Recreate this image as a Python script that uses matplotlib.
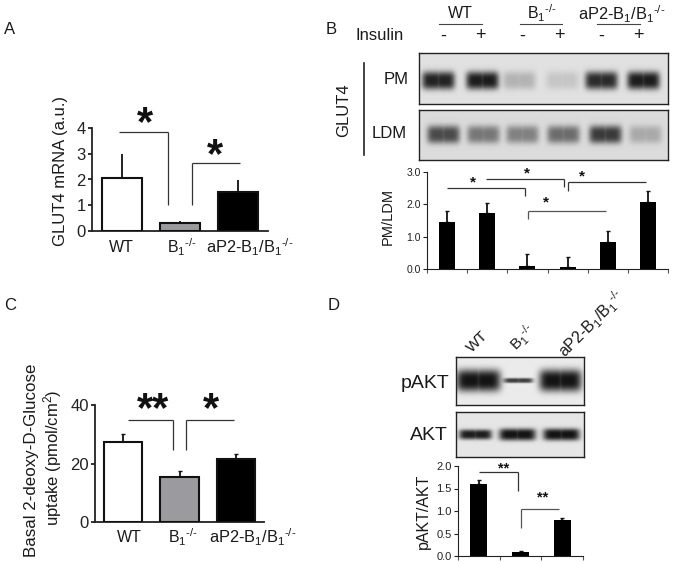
import numpy as np
import matplotlib
matplotlib.use("Agg")
import matplotlib.pyplot as plt

plt.rcParams['font.family'] = ['Liberation Sans', 'DejaVu Sans']
plt.rcParams['mathtext.fontset'] = 'custom'
plt.rcParams['mathtext.rm'] = 'Liberation Sans'
plt.rcParams['mathtext.default'] = 'regular'

W, H = 673, 564
KO = 'B$_1$$^{\u2010/\u2010}$'
RESCUE = 'aP2-B$_1$/B$_1$$^{\u2010/\u2010}$'

# panel A
a_labels = ['WT', KO, RESCUE]
a_values = [2.05, 0.30, 1.50]
a_err = [0.95, 0.07, 0.47]
a_ticks = [0, 1, 2, 3, 4]

# panel B
b_values = [1.45, 1.72, 0.10, 0.05, 0.82, 2.06]
b_err = [0.35, 0.33, 0.37, 0.33, 0.35, 0.36]
b_ticks = [0.0, 1.0, 2.0, 3.0]
b_pm_bands = [0.92, 0.95, 0.22, 0.13, 0.88, 0.95]
b_ldm_bands = [0.72, 0.5, 0.45, 0.55, 0.8, 0.25]

# panel C
c_labels = ['WT', KO, RESCUE]
c_values = [27.5, 15.5, 21.5]
c_err = [2.5, 2.0, 1.6]
c_ticks = [0, 20, 40]

# panel D
d_values = [1.60, 0.10, 0.80]
d_err = [0.09, 0.01, 0.04]
d_ticks = [0.0, 0.5, 1.0, 1.5, 2.0]
d_pakt_bands = [1.0, 0.8, 1.0]
d_akt_bands = [0.95, 1.0, 1.0]

fig = plt.figure(figsize=(W / 100, H / 100), dpi=100, facecolor='white')


def ax_px(x0, y0, x1, y1):
    return fig.add_axes([x0 / W, 1 - y1 / H, (x1 - x0) / W, (y1 - y0) / H])


overlay = ax_px(0, 0, W, H)
overlay.set_xlim(0, W)
overlay.set_ylim(H, 0)
overlay.axis('off')
overlay.set_zorder(5)


def txt(x, y, s, size=11, **kw):
    kw.setdefault('ha', 'center')
    kw.setdefault('va', 'center')
    kw.setdefault('color', '#1a1a1a')
    overlay.text(x, y, s, fontsize=size, **kw)


def bracket(x0, x1, y, drop_x, drop_y, color='#333333', lw=0.9):
    overlay.plot([x0, x1], [y, y], color=color, lw=lw, solid_capstyle='butt')
    overlay.plot([drop_x, drop_x], [y, drop_y], color=color, lw=lw, solid_capstyle='butt')


def star(x, y, s, size):
    # the asterisk sits high in its glyph box, so anchor on the baseline
    overlay.text(x, y + size * 0.62, s, fontsize=size, ha='center', va='baseline',
                 color='#111111', fontweight='bold')


def bar_panel(box, values, err, ticks, ylim, colors, width, lw, tick_fmt, tick_size,
              spine_lw, capsize, tick_bottom=False):
    ax = ax_px(*box)
    x = np.arange(len(values))
    ax.bar(x, values, width=width, color=colors, edgecolor='#111111' if lw else 'black',
           linewidth=lw, zorder=3)
    ax.errorbar(x, values, yerr=[np.zeros(len(err)), err], fmt='none', ecolor='#111111',
                elinewidth=1.3, capsize=capsize, capthick=1.0, zorder=2)
    ax.set_xlim(-0.5, len(values) - 0.5)
    ax.set_ylim(*ylim)
    ax.set_yticks(ticks)
    ax.set_yticklabels([tick_fmt.format(t) for t in ticks], fontsize=tick_size, color='#222222')
    ax.spines['top'].set_visible(False)
    ax.spines['right'].set_visible(False)
    for s in ('left', 'bottom'):
        ax.spines[s].set_linewidth(spine_lw)
        ax.spines[s].set_color('#222222')
    ax.tick_params(axis='y', length=3, width=spine_lw, pad=1.5, color='#222222')
    if tick_bottom:
        ax.set_xticks(np.arange(len(values) + 1) - 0.5)
        ax.set_xticklabels([])
        ax.tick_params(axis='x', length=3, width=0.8, direction='out', color='#555555')
    else:
        ax.set_xticks([])
    ax.patch.set_alpha(0)
    return ax


def blot(box, centers, strengths, half_w, half_h, band_y, bg):
    # western blot panel painted from band strengths, each band two merged lobes
    x0, y0, x1, y1 = box
    xx, yy = np.meshgrid(np.arange(x0, x1), np.arange(y0, y1))
    img = np.full(xx.shape, bg, dtype=float)
    for c, st, hw, hh in zip(centers, strengths, half_w, half_h):
        dv = np.abs(yy - band_y) / hh
        lobes = [np.exp(-(np.abs(xx - (c + off * hw)) / (hw * 0.62)) ** 4 - dv ** 3)
                 for off in (-0.35, 0.35)]
        img -= bg * st * 0.92 * np.maximum(lobes[0], lobes[1])
    ax = ax_px(*box)
    ax.imshow(np.clip(img, 0.08, 1), cmap='gray', vmin=0, vmax=1, aspect='auto',
              interpolation='bilinear')
    ax.set_xticks([])
    ax.set_yticks([])
    for s in ax.spines.values():
        s.set_linewidth(1.0)
        s.set_color('#222222')


# A
bar_panel((92, 128, 268, 231), a_values, a_err, a_ticks, (0, 4),
          ['white', '#9b9b9f', 'black'], 0.68, 1.5, '{:d}', 12, 1.3, 0)
fig.axes[-1].set_xlim(-0.517, 2.517)
for lab, cx in zip(a_labels, [121, 182, 250]):
    txt(cx, 247, lab, 11.5 if lab is not RESCUE else 11.8)
txt(60, 171, 'GLUT4 mRNA (a.u.)', 12, rotation=90)
bracket(119, 168, 132, 168, 205)
bracket(192, 240, 163, 192, 205)
star(145, 116, '*', 30)
star(215, 148, '*', 30)

# B
bar_panel((427, 172, 668, 269), b_values, b_err, b_ticks, (0, 3),
          ['black'] * 6, 0.40, 0, '{:.1f}', 7.5, 0.8, 1.5, tick_bottom=True)
txt(388, 216, 'PM/LDM', 10.5, rotation=90)
bracket(447, 525, 188, 525, 196)
bracket(486, 564, 179, 564, 187)
bracket(568, 646, 182, 568, 191)
bracket(528, 606, 211, 528, 219, color='#555555')
for x, y in [(473, 180), (527, 171), (582, 174), (546, 200)]:
    star(x, y, '*', 11)

txt(460, 13, 'WT', 11.5)
txt(542, 13, KO, 11.5)
txt(622, 14, RESCUE, 11.8)
for x0, x1 in [(439, 482), (520, 562), (597, 640)]:
    overlay.plot([x0, x1], [24, 24], color='#444444', lw=0.8)
txt(380, 35, 'Insulin', 12)
for x, s in zip([443, 480, 522, 559, 601, 638], ['-', '+'] * 3):
    txt(x, 36, s, 13)
overlay.plot([364, 364], [63, 155], color='#222222', lw=1.2)
txt(344, 110, 'GLUT4', 12, rotation=90)
txt(396, 79, 'PM', 12)
txt(389, 133, 'LDM', 12)
blot((419, 53, 668, 104), [438, 482, 519, 562, 601, 643], b_pm_bands, [17] * 6, [9] * 6, 80, 0.88)
blot((419, 110, 668, 160), [443, 483, 522, 563, 605, 645], b_ldm_bands, [17] * 6, [9] * 6, 134, 0.86)

# C
bar_panel((95, 405, 264, 522), c_values, c_err, c_ticks, (0, 40),
          ['white', '#9b9b9f', 'black'], 0.68, 1.5, '{:d}', 12, 1.3, 1.5)
for lab, cx in zip(c_labels, [129, 183, 253]):
    txt(cx, 537, lab, 11.5 if lab is not RESCUE else 11.8)
txt(32, 460, 'Basal 2-deoxy-D-Glucose', 12.2, rotation=90)
txt(53, 458, 'uptake (pmol/cm$^2$)', 12, rotation=90)
bracket(128, 173, 420, 173, 450)
bracket(186, 234, 420, 186, 450)
star(153, 402, '**', 30)
star(211, 402, '*', 30)

# D
bar_panel((458, 466, 583, 556), d_values, d_err, d_ticks, (0, 2),
          ['black'] * 3, 0.41, 0, '{:.1f}', 8, 0.8, 1.5, tick_bottom=True)
txt(423, 511, 'pAKT/AKT', 11.5, rotation=90)
bracket(479, 518, 472, 518, 491)
bracket(521, 559, 509, 521, 528, color='#555555')
star(504, 466, '**', 10.5)
star(543, 495, '**', 10.5)
txt(478, 342, 'WT', 11, rotation=45)
txt(523, 338, KO, 11, rotation=45)
txt(592, 324, RESCUE, 11.5, rotation=45)
txt(425, 383, 'pAKT', 14)
txt(429, 436, 'AKT', 14)
blot((456, 357, 584, 405), [478, 518, 560], d_pakt_bands, [23, 15, 22], [11, 2.5, 11], 380, 0.92)
blot((456, 412, 584, 457), [475, 517, 561], d_akt_bands, [17, 19, 19], [5, 6, 6], 434, 0.9)

# panel letters
txt(10, 29, 'A', 12)
txt(331, 29, 'B', 12)
txt(10, 305, 'C', 12)
txt(334, 306, 'D', 12)

fig.savefig('out.png', dpi=100, facecolor='white')
